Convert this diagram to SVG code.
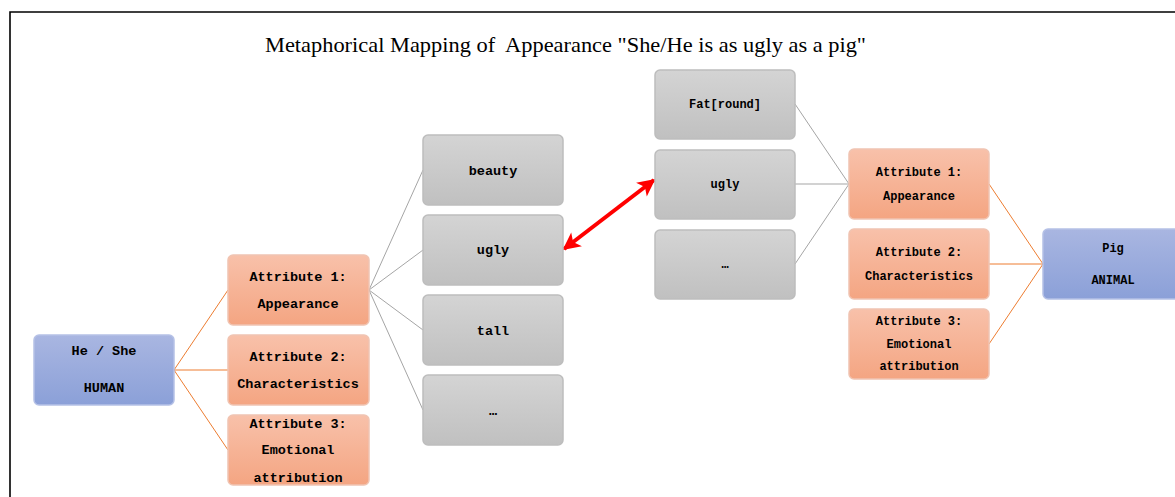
<svg xmlns="http://www.w3.org/2000/svg" width="1175" height="497" viewBox="0 0 1175 497">
<defs>
<linearGradient id="gBlue" x1="0" y1="0" x2="0" y2="1"><stop offset="0" stop-color="#A9B6E1"/><stop offset="1" stop-color="#8BA0D8"/></linearGradient>
<linearGradient id="gOr" x1="0" y1="0" x2="0" y2="1"><stop offset="0" stop-color="#F8C1AA"/><stop offset="1" stop-color="#F4A582"/></linearGradient>
<linearGradient id="gGr" x1="0" y1="0" x2="0" y2="1"><stop offset="0" stop-color="#D4D4D4"/><stop offset="1" stop-color="#C0C0C0"/></linearGradient>
<marker id="ah" viewBox="0 0 10 10" refX="9" refY="5" markerWidth="5" markerHeight="4.4" orient="auto-start-reverse" markerUnits="strokeWidth"><path d="M0,0 L10,5 L0,10 L2.5,5 z" fill="#FF0000"/></marker>
</defs>
<style>
.blue{fill:url(#gBlue);stroke:#B5C1E6;stroke-width:1.5}
.or{fill:url(#gOr);stroke:#F0C4B2;stroke-width:1.5}
.gr{fill:url(#gGr);stroke:#BDBDBD;stroke-width:1.5}
.t{font-family:"Liberation Mono",monospace;font-weight:bold;font-size:13.5px;fill:#000;text-anchor:middle}
.ts{font-family:"Liberation Mono",monospace;font-weight:bold;font-size:12px;fill:#000;text-anchor:middle}
.co{stroke:#ED7D31;stroke-width:1;fill:none}
.cg{stroke:#A5A5A5;stroke-width:1;fill:none}
</style>
<rect x="0" y="0" width="1175" height="497" fill="#FFFFFF"/>
<path d="M10,497 L10,12 L1175,12" fill="none" stroke="#000" stroke-width="1.6"/>
<text x="265" y="52" font-family="Liberation Serif,serif" font-size="21" fill="#000" textLength="601" lengthAdjust="spacingAndGlyphs">Metaphorical Mapping of&#160; Appearance "She/He is as ugly as a pig"</text>
<g id="connectors">
<line class="co" x1="174" y1="370" x2="228" y2="290"/>
<line class="co" x1="174" y1="370" x2="228" y2="370"/>
<line class="co" x1="174" y1="370" x2="228" y2="450"/>
<line class="cg" x1="369" y1="290" x2="423" y2="170"/>
<line class="cg" x1="369" y1="290" x2="423" y2="250"/>
<line class="cg" x1="369" y1="290" x2="423" y2="330"/>
<line class="cg" x1="369" y1="290" x2="423" y2="410"/>
<line class="cg" x1="795" y1="104" x2="849" y2="184"/>
<line class="cg" x1="795" y1="184" x2="849" y2="184"/>
<line class="cg" x1="795" y1="264" x2="849" y2="184"/>
<line class="co" x1="989" y1="184" x2="1043" y2="264"/>
<line class="co" x1="989" y1="264" x2="1043" y2="264"/>
<line class="co" x1="989" y1="344" x2="1043" y2="264"/>
<line x1="564" y1="249" x2="654" y2="180" stroke="#FF0000" stroke-width="4" marker-start="url(#ah)" marker-end="url(#ah)"/>
</g>
<g id="human"><rect class="blue" x="34" y="335" width="140" height="70" rx="5"/><text class="t" x="104" y="355">He / She</text><text class="t" x="104" y="392">HUMAN</text></g>
<g id="h-attr1"><rect class="or" x="228" y="255" width="141" height="70" rx="5"/><text class="t" x="298" y="281">Attribute 1:</text><text class="t" x="298" y="308">Appearance</text></g>
<g id="h-attr2"><rect class="or" x="228" y="335" width="141" height="70" rx="5"/><text class="t" x="298" y="361">Attribute 2:</text><text class="t" x="298" y="388">Characteristics</text></g>
<g id="h-attr3"><rect class="or" x="228" y="415" width="141" height="70" rx="5"/><text class="t" x="298" y="428">Attribute 3:</text><text class="t" x="298" y="454">Emotional</text><text class="t" x="298" y="482">attribution</text></g>
<g id="beauty"><rect class="gr" x="423" y="135" width="140" height="70" rx="5"/><text class="t" x="493" y="175">beauty</text></g>
<g id="ugly-h"><rect class="gr" x="423" y="215" width="140" height="70" rx="5"/><text class="t" x="493" y="254">ugly</text></g>
<g id="tall"><rect class="gr" x="423" y="295" width="140" height="70" rx="5"/><text class="t" x="493" y="335">tall</text></g>
<g id="more-h"><rect class="gr" x="423" y="375" width="140" height="70" rx="5"/><text class="t" x="493" y="415">…</text></g>
<g id="fat"><rect class="gr" x="655" y="70" width="140" height="69" rx="5"/><text class="ts" x="725" y="108">Fat[round]</text></g>
<g id="ugly-p"><rect class="gr" x="655" y="150" width="140" height="69" rx="5"/><text class="ts" x="725" y="188">ugly</text></g>
<g id="more-p"><rect class="gr" x="655" y="230" width="140" height="69" rx="5"/><text class="ts" x="725" y="268">…</text></g>
<g id="p-attr1"><rect class="or" x="849" y="149" width="140" height="70" rx="5"/><text class="ts" x="919" y="176">Attribute 1:</text><text class="ts" x="919" y="200">Appearance</text></g>
<g id="p-attr2"><rect class="or" x="849" y="229" width="140" height="70" rx="5"/><text class="ts" x="919" y="256">Attribute 2:</text><text class="ts" x="919" y="280">Characteristics</text></g>
<g id="p-attr3"><rect class="or" x="849" y="309" width="140" height="70" rx="5"/><text class="ts" x="919" y="325">Attribute 3:</text><text class="ts" x="919" y="348">Emotional</text><text class="ts" x="919" y="370">attribution</text></g>
<g id="pig"><rect class="blue" x="1043" y="229" width="140" height="70" rx="5"/><text class="ts" x="1113" y="252">Pig</text><text class="ts" x="1113" y="284">ANIMAL</text></g>
</svg>
